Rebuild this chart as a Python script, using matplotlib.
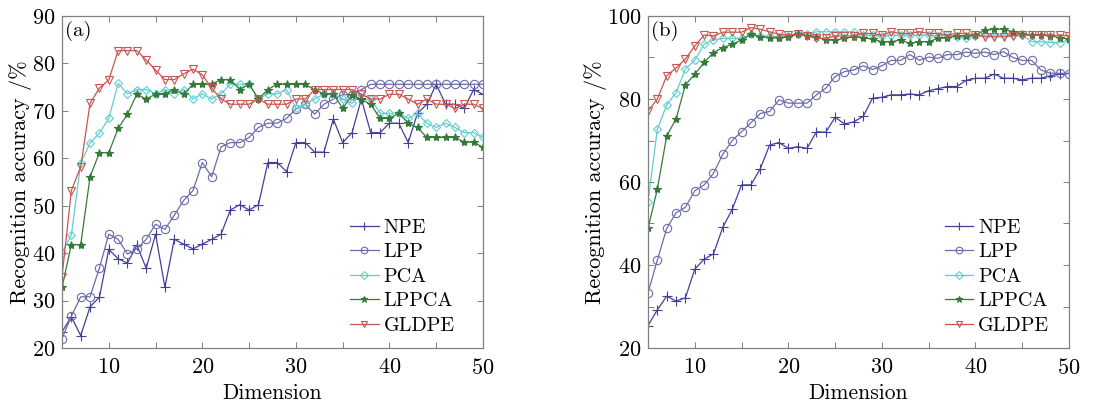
# [0] Import Libraries
import matplotlib
matplotlib.use("Agg")
import matplotlib.pyplot as plt
from matplotlib.ticker import MultipleLocator


# [1] Data
DIMENSIONS = list(range(5, 51))

NPE_A = [23.4, 26.6, 22.6, 28.7, 30.7, 40.8, 38.8, 37.9, 41.7, 36.8,
         44.0, 32.8, 42.9, 41.9, 40.9, 41.9, 42.9, 44.0, 49.1, 50.2,
         49.1, 50.2, 59.1, 59.1, 57.2, 63.3, 63.3, 61.3, 61.3, 68.3,
         63.3, 65.4, 72.5, 65.4, 65.4, 67.4, 67.4, 63.3, 69.5, 71.4,
         75.6, 71.4, 71.4, 70.5, 74.5, 73.5]
LPP_A = [22.0, 26.7, 30.8, 30.8, 36.9, 44.0, 42.9, 39.8, 40.9, 42.9,
         46.1, 45.0, 48.0, 51.1, 53.2, 59.1, 56.1, 62.4, 63.3, 63.3,
         64.4, 66.5, 67.4, 67.4, 68.4, 70.4, 71.4, 69.3, 71.4, 72.5,
         73.4, 73.4, 74.5, 75.6, 75.6, 75.6, 75.6, 75.6, 75.6, 75.6,
         75.6, 75.6, 75.6, 75.6, 75.6, 75.6]
PCA_A = [40.0, 43.8, 59.0, 63.2, 65.3, 68.4, 75.8, 73.6, 74.5, 74.5,
         73.6, 74.5, 73.6, 74.5, 72.5, 73.6, 72.5, 73.6, 75.6, 75.6,
         75.6, 72.5, 73.6, 73.6, 74.5, 70.5, 71.4, 72.5, 73.5, 73.5,
         72.5, 71.6, 73.5, 72.5, 69.5, 69.5, 69.5, 68.4, 69.5, 67.4,
         66.5, 67.4, 66.5, 65.4, 65.4, 64.4]
LPPCA_A = [32.8, 41.8, 41.8, 56.1, 61.2, 61.2, 66.3, 69.3, 73.5, 72.5,
           73.5, 73.5, 74.5, 73.5, 75.6, 75.6, 75.6, 76.6, 76.6, 74.5,
           75.6, 72.5, 74.5, 75.6, 75.6, 75.6, 75.6, 74.4, 73.6, 73.6,
           70.5, 73.3, 72.4, 71.4, 68.4, 68.4, 69.5, 67.4, 66.5, 64.4,
           64.4, 64.4, 64.4, 63.4, 63.4, 62.3]
GLDPE_A = [35.0, 53.2, 58.2, 71.6, 74.8, 76.5, 82.7, 82.7, 82.7, 80.7,
           78.6, 76.6, 76.6, 77.8, 78.8, 77.6, 74.8, 72.5, 71.4, 71.4,
           71.4, 72.5, 71.4, 71.4, 71.4, 72.5, 72.5, 74.5, 74.5, 74.5,
           74.5, 74.5, 73.5, 72.5, 72.5, 73.5, 73.5, 72.5, 71.4, 72.5,
           71.4, 71.4, 70.5, 71.4, 71.4, 70.5]

NPE_B = [25.4, 29.2, 32.5, 31.3, 32.1, 39.0, 41.4, 42.7, 49.1, 53.4,
         59.3, 59.3, 63.2, 68.9, 69.5, 68.1, 68.5, 68.1, 72.1, 72.0,
         75.6, 74.0, 74.5, 75.8, 80.2, 80.4, 81.0, 81.0, 81.2, 81.0,
         82.0, 82.5, 83.0, 83.0, 84.5, 85.0, 85.0, 86.0, 85.0, 85.0,
         84.6, 85.0, 85.0, 85.6, 86.0, 86.2]
LPP_B = [33.3, 41.2, 48.8, 52.6, 53.9, 57.9, 59.3, 62.1, 66.7, 70.0,
         72.1, 74.3, 76.5, 77.0, 79.8, 79.0, 79.0, 79.0, 81.0, 82.6,
         85.4, 86.6, 87.0, 88.0, 87.1, 88.0, 89.3, 89.3, 90.7, 89.3,
         90.1, 89.8, 90.7, 90.7, 91.3, 91.0, 91.3, 90.7, 91.4, 90.0,
         89.3, 89.3, 87.0, 86.2, 86.2, 86.1]
PCA_B = [55.3, 72.7, 78.6, 81.5, 87.3, 89.3, 93.2, 94.2, 94.6, 94.6,
         94.6, 95.6, 95.2, 95.2, 95.0, 95.2, 95.6, 95.6, 96.2, 96.2,
         96.2, 96.2, 96.2, 95.4, 95.4, 95.2, 95.4, 95.4, 95.4, 95.4,
         95.4, 95.2, 95.4, 95.0, 94.6, 95.2, 95.4, 95.4, 95.4, 95.4,
         95.4, 93.8, 93.8, 93.6, 93.6, 94.2]
LPPCA_B = [48.8, 58.3, 71.1, 75.2, 83.4, 86.0, 88.8, 91.2, 92.4, 93.2,
           94.2, 95.6, 95.0, 94.8, 94.8, 95.0, 95.6, 95.2, 95.0, 94.2,
           94.2, 94.6, 95.0, 94.8, 94.4, 93.8, 93.8, 94.2, 93.4, 93.8,
           93.8, 94.6, 94.8, 95.2, 95.2, 95.4, 96.6, 96.8, 96.8, 96.2,
           95.7, 95.4, 95.4, 95.2, 94.8, 94.4]
GLDPE_B = [77.1, 80.0, 85.6, 87.5, 89.6, 92.8, 95.4, 95.2, 96.1, 96.1,
           96.1, 97.2, 96.8, 96.2, 95.6, 95.4, 95.6, 95.2, 94.6, 94.6,
           95.2, 95.2, 95.2, 95.8, 95.8, 95.4, 96.2, 95.8, 95.8, 96.2,
           95.8, 95.8, 95.4, 95.8, 95.8, 95.4, 95.0, 95.0, 95.0, 95.2,
           95.4, 95.4, 95.4, 95.4, 95.4, 95.2]


# [2] Styles
METHOD_STYLES = {
    "NPE": {"color": "#41419a", "marker": "+", "mfc": "#41419a", "ms": 7},
    "LPP": {"color": "#6c6ca8", "marker": "o", "mfc": "none", "ms": 6},
    "PCA": {"color": "#62cdd2", "marker": "D", "mfc": "none", "ms": 4.5},
    "LPPCA": {"color": "#367a3a", "marker": "*", "mfc": "#367a3a", "ms": 6},
    "GLDPE": {"color": "#c8554f", "marker": "v", "mfc": "none", "ms": 6},
}

PANELS = [
    {
        "tag": "(a)",
        "series": {"NPE": NPE_A, "LPP": LPP_A, "PCA": PCA_A,
                   "LPPCA": LPPCA_A, "GLDPE": GLDPE_A},
        "ylim": (20, 90),
        "yticks": [20, 30, 40, 50, 60, 70, 80, 90],
        "yminor": None,
        "rect": [62 / 1095, 56 / 404, 421 / 1095, 332 / 404],
        "legend_anchor": (0.685, 0.39),
    },
    {
        "tag": "(b)",
        "series": {"NPE": NPE_B, "LPP": LPP_B, "PCA": PCA_B,
                   "LPPCA": LPPCA_B, "GLDPE": GLDPE_B},
        "ylim": (20, 100),
        "yticks": [20, 40, 60, 80, 100],
        "yminor": 10,
        "rect": [648 / 1095, 56 / 404, 421 / 1095, 332 / 404],
        "legend_anchor": (0.705, 0.39),
    },
]

plt.rcParams["font.family"] = ["cmr10", "DejaVu Serif"]
plt.rcParams["mathtext.fontset"] = "cm"
plt.rcParams["axes.formatter.use_mathtext"] = True
plt.rcParams["axes.unicode_minus"] = False


# [3] Draw one panel
def draw_panel(fig, panel):
    ax = fig.add_axes(panel["rect"])

    for name, style in METHOD_STYLES.items():
        ax.plot(
            DIMENSIONS,
            panel["series"][name],
            color=style["color"],
            marker=style["marker"],
            markerfacecolor=style["mfc"],
            markeredgecolor=style["color"],
            markersize=style["ms"],
            markeredgewidth=0.8,
            linewidth=0.9,
            label=name,
        )

    ax.set_xlim(5, 50)
    ax.set_ylim(*panel["ylim"])
    ax.xaxis.set_major_locator(MultipleLocator(10))
    ax.xaxis.set_minor_locator(MultipleLocator(5))
    ax.set_yticks(panel["yticks"])
    if panel["yminor"]:
        ax.yaxis.set_minor_locator(MultipleLocator(panel["yminor"]))

    ax.tick_params(which="both", direction="in", top=True, right=True,
                   length=4, width=0.7, color="#808080", labelsize=16)
    ax.tick_params(axis="x", pad=7)
    ax.tick_params(axis="y", pad=5)
    for spine in ax.spines.values():
        spine.set_color("#808080")
        spine.set_linewidth(0.9)

    ax.set_xlabel("Dimension", fontsize=15.5, labelpad=4)
    ax.set_ylabel("Recognition accuracy /%", fontsize=16, labelpad=0)
    ax.text(0.008, 0.985, panel["tag"], transform=ax.transAxes,
            fontsize=15, ha="left", va="top")

    ax.legend(
        loc="upper left",
        bbox_to_anchor=panel["legend_anchor"],
        frameon=False,
        fontsize=14.5,
        handlelength=1.4,
        handletextpad=0.25,
        labelspacing=0.32,
        borderpad=0,
        borderaxespad=0,
        markerscale=0.8,
    )

    return ax


# [4] Script Entry
def main():
    fig = plt.figure(figsize=(10.95, 4.04), dpi=100)

    for panel in PANELS:
        draw_panel(fig, panel)

    fig.savefig("out.png", dpi=100)
    plt.close(fig)


if __name__ == "__main__":
    main()
